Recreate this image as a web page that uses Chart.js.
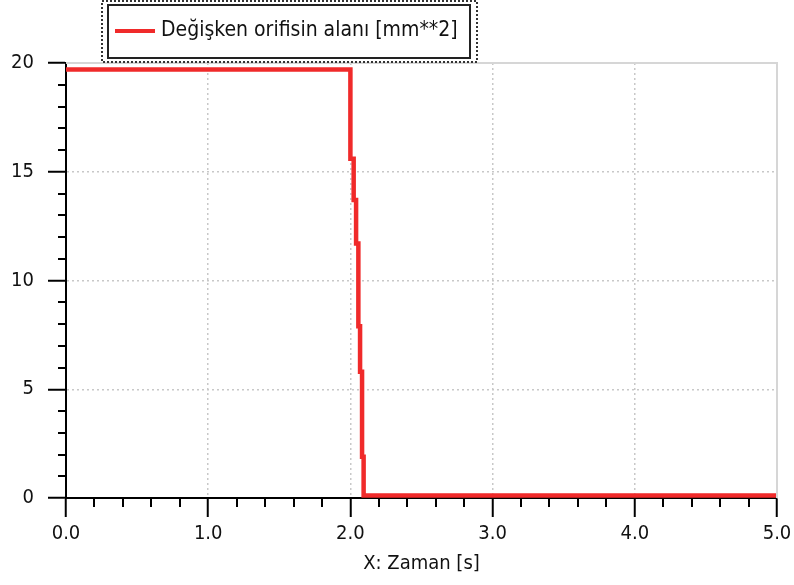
<!DOCTYPE html>
<html>
<head>
<meta charset="utf-8">
<script src="https://cdn.jsdelivr.net/npm/chart.js@4.4.0/dist/chart.umd.min.js"></script>
<style>
  html, body { margin: 0; padding: 0; background: #fff; }
  #wrap { width: 794px; height: 585px; }
</style>
</head>
<body>
<div id="wrap"><canvas id="c" width="794" height="585"></canvas></div>
<script>
// time [s] where the value changes, and the area [mm**2] from that point on
var times = [0, 2.0, 2.023, 2.04, 2.056, 2.068, 2.082, 2.093, 5.0];
var areas = [19.7, 15.6, 13.7, 11.7, 7.9, 5.8, 1.9, 0.12, 0.12];
var xTicks = [0, 1, 2, 3, 4, 5];
var yTicks = [0, 5, 10, 15, 20];
var seriesLabel = 'Değişken orifisin alanı [mm**2]';
var xTitle = 'X: Zaman [s]';

var FONT = '"DejaVu Sans Condensed", "DejaVu Sans"';
var gridGray = '#c8c8c8';
var textColor = '#111';

var points = times.map(function (t, i) { return { x: t, y: areas[i] }; });

// minor ticks, plot frame and the boxed legend
var extras = {
    id: 'extras',
    afterDraw: function (chart) {
        var ctx = chart.ctx;
        var a = chart.chartArea;
        var xs = chart.scales.x, ys = chart.scales.y;
        ctx.save();
        // frame top/right
        ctx.strokeStyle = '#d6d6d6';
        ctx.lineWidth = 2;
        ctx.beginPath();
        ctx.moveTo(a.left, a.top);
        ctx.lineTo(a.right, a.top);
        ctx.lineTo(a.right, a.bottom);
        ctx.stroke();
        // minor ticks
        ctx.strokeStyle = '#000';
        ctx.lineWidth = 2;
        ctx.beginPath();
        for (var v = 1; v < 20; v++) {
            if (v % 5 === 0) continue;
            var py = Math.round(ys.getPixelForValue(v));
            ctx.moveTo(a.left - 8, py);
            ctx.lineTo(a.left, py);
        }
        for (var k = 1; k < 25; k++) {
            if (k % 5 === 0) continue;
            var px = Math.round(xs.getPixelForValue(k * 0.2));
            ctx.moveTo(px, a.bottom);
            ctx.lineTo(px, a.bottom + 9);
        }
        ctx.stroke();
        // legend
        ctx.lineWidth = 2;
        ctx.setLineDash([2, 2]);
        ctx.strokeStyle = '#333';
        ctx.strokeRect(102, 1, 375, 61);
        ctx.setLineDash([]);
        ctx.strokeStyle = '#222';
        ctx.strokeRect(108, 5, 362, 53);
        var ds = chart.data.datasets[0];
        ctx.strokeStyle = ds.borderColor;
        ctx.lineWidth = 4;
        ctx.beginPath();
        ctx.moveTo(115, 31);
        ctx.lineTo(155, 31);
        ctx.stroke();
        ctx.fillStyle = textColor;
        ctx.font = '21px ' + FONT;
        ctx.textBaseline = 'middle';
        ctx.fillText(ds.label, 161, 31);
        ctx.restore();
    }
};

var ctx = document.getElementById('c').getContext('2d');
new Chart(ctx, {
    type: 'line',
    data: {
        datasets: [{
            label: seriesLabel,
            data: points,
            borderColor: '#f02a2a',
            borderWidth: 4.5,
            stepped: 'before',
            pointRadius: 0,
            fill: false
        }]
    },
    options: {
        responsive: false,
        animation: false,
        layout: { padding: { top: 63, right: 17, left: 0, bottom: 0 } },
        plugins: { legend: { display: false }, tooltip: { enabled: false } },
        scales: {
            x: {
                type: 'linear',
                min: 0, max: 5,
                afterFit: function (s) { s.height = 87; s.paddingRight = 0; },
                afterBuildTicks: function (s) { s.ticks = xTicks.map(function (v) { return { value: v }; }); },
                ticks: {
                    color: textColor,
                    font: { family: FONT, size: 20 },
                    padding: 5,
                    maxRotation: 0,
                    callback: function (v) { return v.toFixed(1); }
                },
                grid: {
                    color: function (c) { return (c.tick && (c.tick.value === 0 || c.tick.value === 5)) ? 'rgba(0,0,0,0)' : gridGray; },
                    lineWidth: 1.5,
                    tickColor: '#000',
                    tickWidth: 2,
                    tickLength: 19
                },
                border: { color: '#000', width: 2, dash: [2, 3] },
                title: {
                    display: true,
                    text: xTitle,
                    color: textColor,
                    font: { family: FONT, size: 20 },
                    padding: { top: 0, bottom: 9 }
                }
            },
            y: {
                min: 0, max: 20,
                afterFit: function (s) { s.width = 66; },
                afterBuildTicks: function (s) { s.ticks = yTicks.map(function (v) { return { value: v }; }); },
                ticks: {
                    color: textColor,
                    font: { family: FONT, size: 20 },
                    padding: 14
                },
                grid: {
                    color: function (c) { return (c.tick && (c.tick.value === 0 || c.tick.value === 20)) ? 'rgba(0,0,0,0)' : gridGray; },
                    lineWidth: 1.5,
                    tickColor: '#000',
                    tickWidth: 2,
                    tickLength: 18
                },
                border: { color: '#000', width: 2, dash: [2, 3] }
            }
        }
    },
    plugins: [extras]
});
</script>
</body>
</html>
